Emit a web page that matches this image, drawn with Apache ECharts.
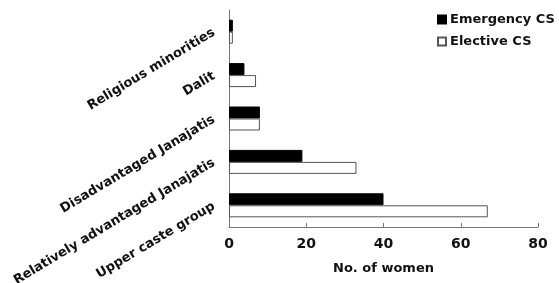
<!DOCTYPE html>
<html>
<head>
<meta charset="utf-8">
<script src="https://cdn.jsdelivr.net/npm/echarts@6/dist/echarts.min.js"></script>
<style>
  html, body { margin: 0; padding: 0; background: #fff; }
  #chart { width: 559px; height: 283px; }
</style>
</head>
<body>
<div id="chart"></div>
<script>
// groups from top to bottom
const groups = ['Religious minorities', 'Dalit', 'Disadvantaged Janajatis', 'Relatively advantaged Janajatis', 'Upper caste group']
const emergencyCS = [1, 4, 8, 19, 40]
const electiveCS = [1, 7, 8, 33, 67]
const xTicks = [0, 20, 40, 60, 80]

const font = 'DejaVu Sans, Verdana, sans-serif'
const chart = echarts.init(document.getElementById('chart'))

chart.setOption({
  animation: false,
  grid: { left: 229, right: 21, top: 10, bottom: 56, outerBoundsMode: 'none', containLabel: false },
  legend: {
    orient: 'vertical',
    left: 437,
    top: 13,
    padding: 0,
    itemGap: 9,
    itemWidth: 8,
    itemHeight: 8,
    icon: 'rect',
    textStyle: { fontFamily: font, fontWeight: 'bold', fontSize: 13, color: '#111', padding: [0, 0, 0, -1] },
    data: ['Emergency CS', 'Elective CS']
  },
  xAxis: {
    type: 'value',
    min: xTicks[0],
    max: xTicks[xTicks.length - 1],
    interval: 20,
    name: 'No. of women',
    nameLocation: 'middle',
    nameGap: 35,
    nameTextStyle: { fontFamily: font, fontWeight: 'bold', fontSize: 13, color: '#111' },
    axisLine: { show: true, lineStyle: { color: '#777', width: 1 } },
    axisTick: { show: true, inside: true, length: 4, lineStyle: { color: '#777' } },
    axisLabel: { fontFamily: font, fontWeight: 'bold', fontSize: 14, color: '#111', margin: 10 },
    splitLine: { show: false }
  },
  yAxis: {
    type: 'category',
    inverse: true,
    data: groups,
    axisLine: { show: true, lineStyle: { color: '#777', width: 1 } },
    axisTick: { show: false },
    axisLabel: { fontFamily: font, fontWeight: 'bold', fontSize: 13, color: '#111', rotate: 31, margin: 15 }
  },
  series: [
    {
      name: 'Emergency CS',
      type: 'bar',
      data: emergencyCS,
      barWidth: 12,
      barGap: '0%',
      itemStyle: { color: '#000', borderColor: '#000', borderWidth: 1 }
    },
    {
      name: 'Elective CS',
      type: 'bar',
      data: electiveCS,
      barWidth: 12,
      barGap: '0%',
      itemStyle: { color: '#fff', borderColor: '#555', borderWidth: 1 }
    }
  ]
})
</script>
</body>
</html>
